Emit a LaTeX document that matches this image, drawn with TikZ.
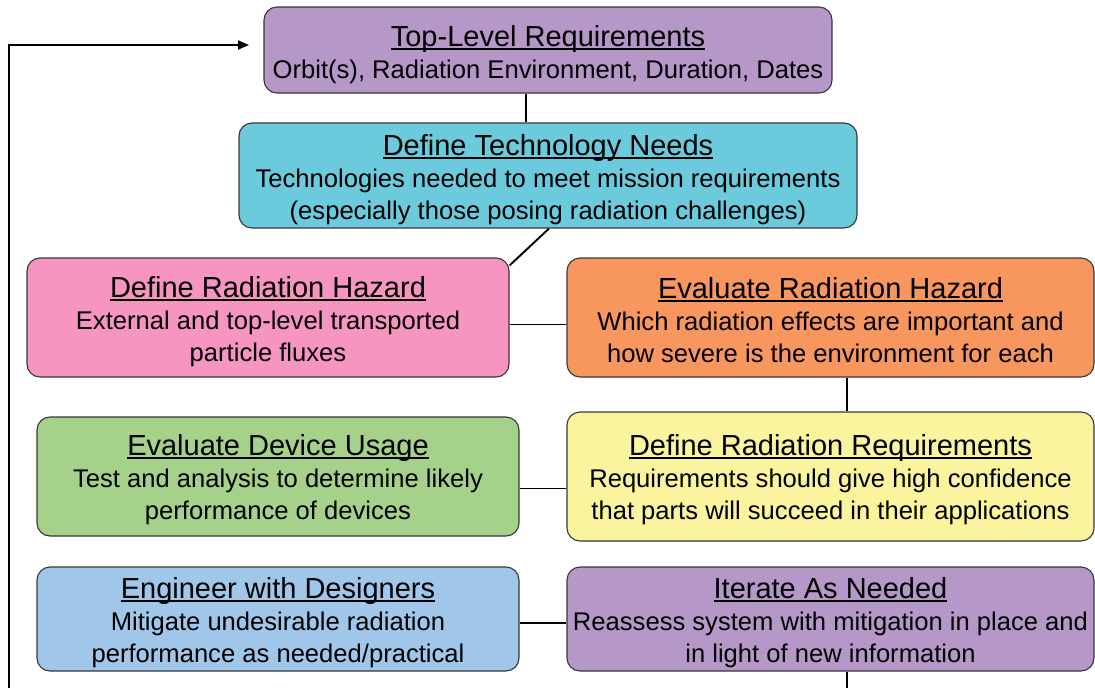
\documentclass[tikz,border=0pt]{standalone}
\usepackage{fontspec}
\setmainfont{Liberation Sans}
\usetikzlibrary{arrows.meta,calc}
\definecolor{cpurple}{RGB}{181,152,200}
\definecolor{ccyan}{RGB}{107,202,219}
\definecolor{cpink}{RGB}{245,149,192}
\definecolor{corange}{RGB}{248,150,95}
\definecolor{cgreen}{RGB}{166,209,138}
\definecolor{cyellow}{RGB}{250,244,158}
\definecolor{cblue}{RGB}{160,199,234}
\definecolor{cborder}{RGB}{55,55,55}
\newcommand{\myul}[1]{\setbox0\hbox{#1}\rlap{\rule[-3.3pt]{\wd0}{1.9pt}}\box0}
\newcommand{\ttl}[1]{{\fontsize{29}{32}\selectfont\myul{#1}}\\}
\begin{document}
\begin{tikzpicture}[x=1pt,y=-1pt,
  box/.style={draw=cborder,line width=1.1pt,rounded corners=13pt,inner sep=0pt},
  txt/.style={align=center,font=\fontsize{25.6}{32}\selectfont,inner sep=0pt},
  conn/.style={line width=1.9pt,black}]
\useasboundingbox (0,0) rectangle (1095,688);
\clip (0,0) rectangle (1095,688);
\node[box,fill=cpurple,minimum width=568pt,minimum height=86pt] (b1) at (548,50) {};
\node[txt] (t1) at ($(b1)+(0,5)$) {\ttl{Top-Level Requirements}Orbit(s), Radiation Environment, Duration, Dates};
\node[box,fill=ccyan,minimum width=618pt,minimum height=105pt] (b2) at (548,175.5) {};
\node[txt] (t2) at ($(b2)+(0,4)$) {\ttl{Define Technology Needs}Technologies needed to meet mission requirements\\(especially those posing radiation challenges)};
\node[box,fill=cpink,minimum width=482pt,minimum height=119pt] (b3) at (268,317.5) {};
\node[txt] (t3) at ($(b3)+(0,4)$) {\ttl{Define Radiation Hazard}External and top-level transported\\particle fluxes};
\node[box,fill=corange,minimum width=527pt,minimum height=119pt] (b4) at (830.5,317.5) {};
\node[txt] (t4) at ($(b4)+(0,3)$) {\ttl{Evaluate Radiation Hazard}Which radiation effects are important and\\how severe is the environment for each};
\node[box,fill=cgreen,minimum width=482pt,minimum height=119pt] (b5) at (278,476.5) {};
\node[txt] (t5) at ($(b5)+(0,3.5)$) {\ttl{Evaluate Device Usage}Test and analysis to determine likely\\performance of devices};
\node[box,fill=cyellow,minimum width=527pt,minimum height=129pt] (b6) at (830.5,476.5) {};
\node[txt] (t6) at ($(b6)+(0,3.5)$) {\ttl{Define Radiation Requirements}Requirements should give high confidence\\that parts will succeed in their applications};
\node[box,fill=cblue,minimum width=482pt,minimum height=104pt] (b7) at (278,619) {};
\node[txt] (t7) at ($(b7)+(0,4)$) {\ttl{Engineer with Designers}Mitigate undesirable radiation\\performance as needed/practical};
\node[box,fill=cpurple,minimum width=527pt,minimum height=104pt] (b8) at (830.5,619) {};
\node[txt] (t8) at ($(b8)+(0,4)$) {\ttl{Iterate As Needed}Reassess system with mitigation in place and\\in light of new information};
% connectors
\draw[conn] ($(b1.south)+(-22,0)$) -- ($(b2.north)+(-22,0)$);
\draw[conn] ($(b2.south)+(1,0)$) -- ($(b3.north east)+(0,8)$);
\draw[conn] ($(b3.east)+(0,7)$) -- ($(b4.west)+(0,7)$);
\draw[conn] ($(b4.south)+(16.5,0)$) -- ($(b6.north)+(16.5,0)$);
\draw[conn] ($(b5.east)+(0,12)$) -- ($(b6.west)+(0,12)$);
\draw[conn] ($(b7.east)+(0,4)$) -- ($(b8.west)+(0,4)$);
\coordinate (tip) at (249,45);
\coordinate (corner) at (9,700);
\draw[conn,-{Triangle[length=11pt,width=9pt]}] ($(b8.south)+(16.5,0)$) |- (corner) |- (tip);
\end{tikzpicture}
\end{document}
